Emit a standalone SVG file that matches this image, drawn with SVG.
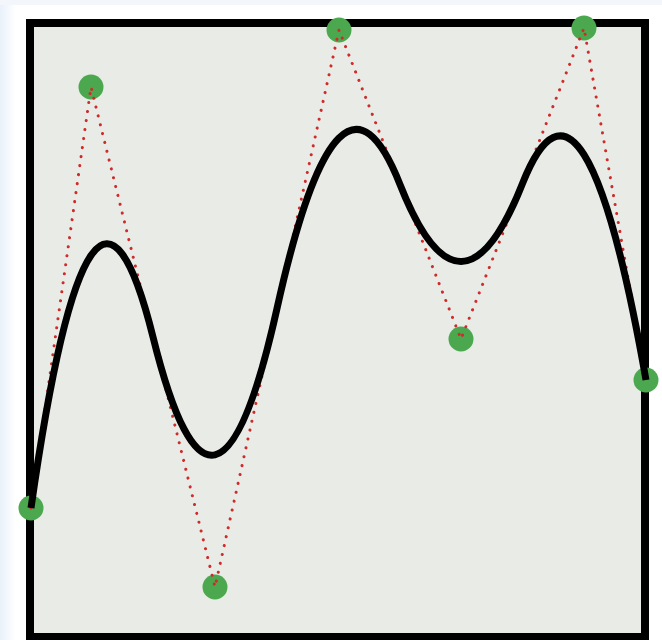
<svg xmlns="http://www.w3.org/2000/svg" width="662" height="640" viewBox="0 0 662 640">
  <defs>
    <linearGradient id="edge" x1="0" y1="0" x2="1" y2="0">
      <stop offset="0" stop-color="#e9f1fb"/>
      <stop offset="1" stop-color="#ffffff"/>
    </linearGradient>
    <style>
      .frame { fill: #e8ebe6; stroke: #000; stroke-width: 8; }
      .pt { fill: #4ca84f; }
      .poly { fill: none; stroke: #d02a2a; stroke-width: 3; stroke-dasharray: 0.1 9; stroke-linecap: round; stroke-linejoin: round; }
      .curve { fill: none; stroke: #000; stroke-width: 7; stroke-linecap: butt; stroke-linejoin: round; }
    </style>
  </defs>
  <rect x="0" y="0" width="662" height="640" fill="#ffffff"/>
  <rect x="0" y="0" width="16" height="640" fill="url(#edge)"/>
  <rect x="0" y="0" width="662" height="5" fill="#f3f7fc"/>
  <g id="frame">
    <rect class="frame" x="30" y="23" width="615" height="614"/>
  </g>
  <g id="control-points">
    <circle id="p0" class="pt" cx="31" cy="508" r="12.5"/>
    <circle id="p1" class="pt" cx="91" cy="87" r="12.5"/>
    <circle id="p2" class="pt" cx="215" cy="587" r="12.5"/>
    <circle id="p3" class="pt" cx="339" cy="30" r="12.5"/>
    <circle id="p4" class="pt" cx="461" cy="339" r="12.5"/>
    <circle id="p5" class="pt" cx="584" cy="28" r="12.5"/>
    <circle id="p6" class="pt" cx="646" cy="380" r="12.5"/>
  </g>
  <g id="connectors">
    <polyline class="poly" points="31,508 91,87 215,587 339,30 461,339 584,28 646,380"/>
    <path class="curve" d="M31,508 Q91,87 153,337 Q215,587 277,308.5 Q339,30 400,184.5 Q461,339 522.5,183.5 Q584,28 646,380"/>
  </g>
</svg>
